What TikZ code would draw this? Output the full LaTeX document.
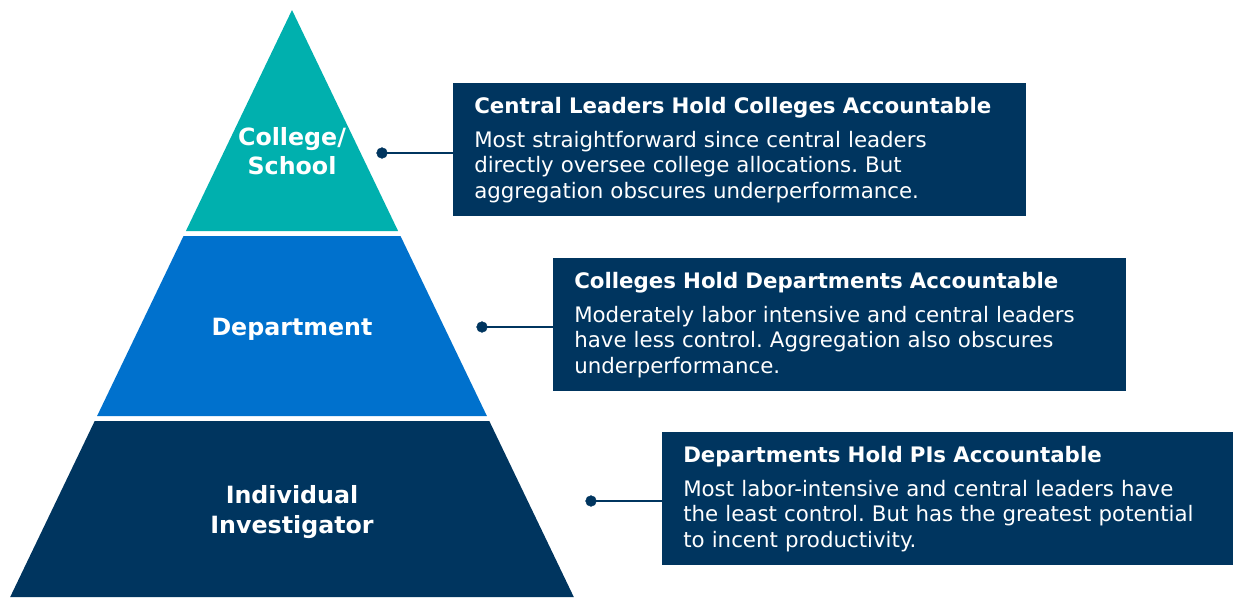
\documentclass[tikz,border=0pt]{standalone}
\usepackage{fontspec}
\setmainfont{DejaVu Sans}
\frenchspacing

\definecolor{levelTeal}{HTML}{00B0AE}
\definecolor{levelBlue}{HTML}{0071CD}
\definecolor{navy}{HTML}{00355F}

\def \dotSize {4pt}

\begin{document}
\begin{tikzpicture}[x=0.75pt,y=-0.75pt,
    level/.style={text=white,align=center,font=\bfseries\fontsize{17.8}{22}\selectfont},
    infobox/.style={fill=navy,text=white,anchor=north west,align=left,
      inner xsep=15.75pt,text width=398.25pt,minimum height=99.75pt,
      font=\fontsize{16}{19.1}\selectfont},
    link/.style={navy,line width=1.5pt}]
   \useasboundingbox (0,0) rectangle (1233,597);

   % pyramid, three levels split by thin white bands
   \fill[levelTeal] (292,10) -- (398.1,231) -- (185.9,231) -- cycle;
   \fill[levelBlue] (183.5,236) -- (400.5,236) -- (486.9,416) -- (97.1,416) -- cycle;
   \fill[navy] (94.7,421) -- (489.3,421) -- (573.8,597) -- (10.2,597) -- cycle;

   \node[level] (college) at (292,151) {College/\\School};
   \node[level] (dept) at (292,329) {Department};
   \node[level] (invest) at (292,512) {Individual\\Investigator};

   % boxes on the right
   \node[infobox] (collegeBox) at (453,83)
      {\textbf{Central Leaders Hold Colleges Accountable}\\[6.5pt]
       Most straightforward since central leaders\\
       directly oversee college allocations. But\\
       aggregation obscures underperformance.};
   \node[infobox] (deptBox) at (553,258)
      {\textbf{Colleges Hold Departments Accountable}\\[6.5pt]
       Moderately labor intensive and central leaders\\
       have less control. Aggregation also obscures\\
       underperformance.};
   \node[infobox] (investBox) at (662,432)
      {\textbf{Departments Hold PIs Accountable}\\[6.5pt]
       Most labor-intensive and central leaders have\\
       the least control. But has the greatest potential\\
       to incent productivity.};

   % connectors
   \coordinate (collegeDot) at (382,153);
   \coordinate (deptDot) at (482,327);
   \coordinate (investDot) at (591,501);
   \draw[link] (collegeDot) -- (collegeDot -| collegeBox.west);
   \draw[link] (deptDot) -- (deptDot -| deptBox.west);
   \draw[link] (investDot) -- (investDot -| investBox.west);
   \filldraw[navy] (collegeDot) circle (\dotSize);
   \filldraw[navy] (deptDot) circle (\dotSize);
   \filldraw[navy] (investDot) circle (\dotSize);
\end{tikzpicture}
\end{document}
